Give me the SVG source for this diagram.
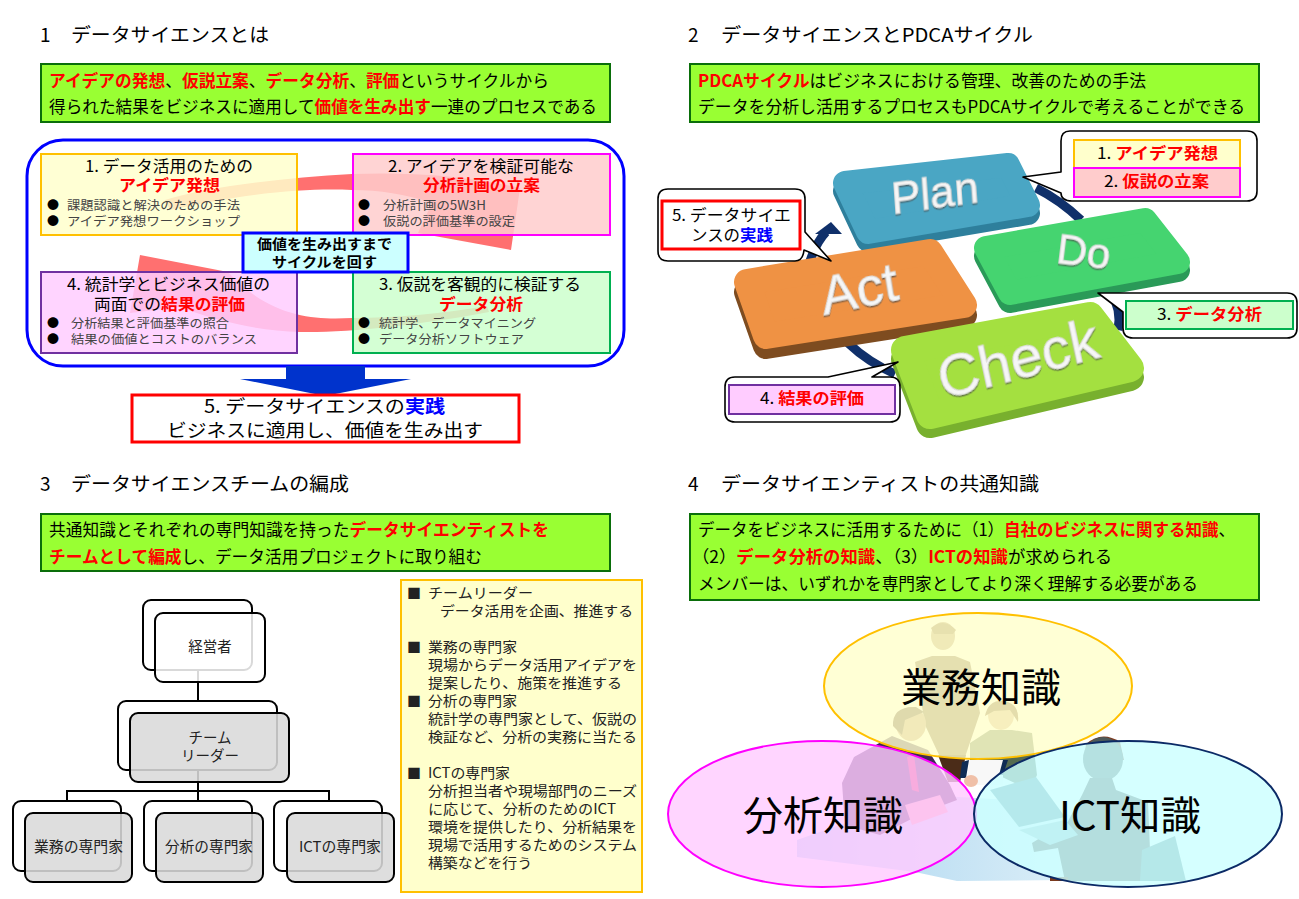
<svg xmlns="http://www.w3.org/2000/svg" width="1299" height="899" viewBox="0 0 1299 899">
<style>
text{font-family:"Noto Sans CJK JP","Liberation Sans",sans-serif;fill:#000;white-space:pre}
.title{font-size:19px}
.ban{font-size:17px}
.r{fill:#f00;font-weight:700}
.bl{fill:#00f;font-weight:700}
.banner{fill:#99ff33;stroke:#0a6e0a;stroke-width:2}
.h{font-size:16px}
.s{font-size:12.5px;fill:#444}
.dot{font-size:12px;fill:#000}
.c{text-anchor:middle}
.yel{fill:#ffffcc;stroke:#ffc000;stroke-width:2}
.pnk{fill:#ffcccc;stroke:#ff00ff;stroke-width:2}
.pur{fill:#ffccff;stroke:#7030a0;stroke-width:2}
.grn{fill:#ccffcc;stroke:#00b050;stroke-width:2}
.band{fill:#ff7070}
.call{fill:#fff;stroke:#000;stroke-width:1.6;stroke-linejoin:round}
.ring{fill:none;stroke:#10306a;stroke-width:9}
.word{font-family:"Liberation Sans",Arial,sans-serif;fill:#f6f6f6;stroke:#dcdcdc;stroke-width:1;text-anchor:middle;filter:url(#sh)}
.bk{fill:#fff;stroke:#000;stroke-width:2}
.fw{fill:#fff;fill-opacity:.85;stroke:#000;stroke-width:2}
.fg{fill:#d9d9d9;fill-opacity:.88;stroke:#000;stroke-width:2}
.org{font-size:14.5px;fill:#222}
.t{font-size:14px;fill:#222}
.big{font-size:40px;text-anchor:middle}
.rj{stroke-linejoin:round}
</style>
<defs>
<filter id="sh" x="-10%" y="-10%" width="120%" height="130%"><feDropShadow dx="0" dy="1.5" stdDeviation=".7" flood-color="#444" flood-opacity=".7"/></filter>
<linearGradient id="tbl" x1="0" y1="0" x2="1" y2="0"><stop offset="0" stop-color="#a8d4f0"/><stop offset="1" stop-color="#dff0f8"/></linearGradient>
</defs>
<rect width="1299" height="899" fill="#fff"/>

<g id="titles">
<text class="title" x="40" y="42">1<tspan x="71" textLength="198" lengthAdjust="spacingAndGlyphs">データサイエンスとは</tspan></text>
<text class="title" x="688" y="42">2<tspan x="721" textLength="312" lengthAdjust="spacingAndGlyphs">データサイエンスとPDCAサイクル</tspan></text>
<text class="title" x="40" y="491">3<tspan x="71" textLength="278" lengthAdjust="spacingAndGlyphs">データサイエンスチームの編成</tspan></text>
<text class="title" x="688" y="491">4<tspan x="721" textLength="318" lengthAdjust="spacingAndGlyphs">データサイエンティストの共通知識</tspan></text>
</g>

<g id="banner1">
<rect class="banner" x="41" y="64" width="569" height="58"/>
<text class="ban" x="49" y="87" textLength="500" lengthAdjust="spacingAndGlyphs"><tspan class="r">アイデアの発想</tspan>、<tspan class="r">仮説立案</tspan>、<tspan class="r">データ分析</tspan>、<tspan class="r">評価</tspan>というサイクルから</text>
<text class="ban" x="49" y="113" textLength="548" lengthAdjust="spacingAndGlyphs">得られた結果をビジネスに適用して<tspan class="r">価値を生み出す</tspan>一連のプロセスである</text>
</g>
<g id="banner2">
<rect class="banner" x="690" y="64" width="569" height="58"/>
<text class="ban" x="698" y="87" textLength="448" lengthAdjust="spacingAndGlyphs"><tspan class="r">PDCAサイクル</tspan>はビジネスにおける管理、改善のための手法</text>
<text class="ban" x="698" y="113" textLength="547" lengthAdjust="spacingAndGlyphs">データを分析し活用するプロセスもPDCAサイクルで考えることができる</text>
</g>
<g id="banner3">
<rect class="banner" x="41" y="514" width="569" height="57"/>
<text class="ban" x="49" y="536" textLength="500" lengthAdjust="spacingAndGlyphs">共通知識とそれぞれの専門知識を持った<tspan class="r">データサイエンティストを</tspan></text>
<text class="ban" x="49" y="563" textLength="433" lengthAdjust="spacingAndGlyphs"><tspan class="r">チームとして編成</tspan>し、データ活用プロジェクトに取り組む</text>
</g>
<g id="banner4">
<rect class="banner" x="690" y="514" width="569" height="86"/>
<text class="ban" x="698" y="536" textLength="537" lengthAdjust="spacingAndGlyphs">データをビジネスに活用するために（1）<tspan class="r">自社のビジネスに関する知識</tspan>、</text>
<text class="ban" x="692" y="563" textLength="420" lengthAdjust="spacingAndGlyphs">（2）<tspan class="r">データ分析の知識</tspan>、（3）<tspan class="r">ICTの知識</tspan>が求められる</text>
<text class="ban" x="698" y="590" textLength="500" lengthAdjust="spacingAndGlyphs">メンバーは、いずれかを専門家としてより深く理解する必要がある</text>
</g>

<g id="cycle-frame">
<rect x="27" y="140" width="597" height="226" rx="36" fill="#fff" stroke="#0000ff" stroke-width="3"/>
</g>
<g id="connectors-cycle">
<path class="band" d="M165,200C210,186 285,178 352,174C405,172 465,175 520,188L511,250L418,233L432,203C405,194 380,190 352,190C310,188 250,192 170,210Z"/>
<path class="band" d="M487,306C440,314 395,318 352,318C315,320 270,318 228,272L140,255L130,313L180,307C220,322 260,331 300,332C345,333 420,325 489,312Z"/>
<path fill="#0033cc" d="M286,366H365V379H411L325,396L240,379H286Z"/>
</g>
<g id="box1">
<rect class="yel" x="41" y="154" width="256" height="81" fill-opacity=".85"/>
<text class="h" x="85" y="172" textLength="168" lengthAdjust="spacingAndGlyphs">1. データ活用のための</text>
<text class="h r" x="119" y="191" textLength="101" lengthAdjust="spacingAndGlyphs">アイデア発想</text>
<text class="dot" x="47" y="210">●</text><text class="s" x="67" y="210" textLength="173" lengthAdjust="spacingAndGlyphs">課題認識と解決のための手法</text>
<text class="dot" x="47" y="226">●</text><text class="s" x="67" y="226" textLength="173" lengthAdjust="spacingAndGlyphs">アイデア発想ワークショップ</text>
</g>
<g id="box2">
<rect class="pnk" x="353" y="154" width="257" height="81" fill-opacity=".85"/>
<text class="h" x="388" y="172" textLength="186" lengthAdjust="spacingAndGlyphs">2. アイデアを検証可能な</text>
<text class="h r" x="423" y="191" textLength="117" lengthAdjust="spacingAndGlyphs">分析計画の立案</text>
<text class="dot" x="358" y="210">●</text><text class="s" x="383" y="210" textLength="103" lengthAdjust="spacingAndGlyphs">分析計画の5W3H</text>
<text class="dot" x="358" y="226">●</text><text class="s" x="383" y="226" textLength="132" lengthAdjust="spacingAndGlyphs">仮説の評価基準の設定</text>
</g>
<g id="box4">
<rect class="pur" x="41" y="272" width="256" height="81" fill-opacity=".85"/>
<text class="h" x="67" y="290" textLength="203" lengthAdjust="spacingAndGlyphs">4. 統計学とビジネス価値の</text>
<text class="h" x="94" y="310" textLength="151" lengthAdjust="spacingAndGlyphs">両面での<tspan class="r">結果の評価</tspan></text>
<text class="dot" x="47" y="328">●</text><text class="s" x="71" y="328" textLength="158" lengthAdjust="spacingAndGlyphs">分析結果と評価基準の照合</text>
<text class="dot" x="47" y="344">●</text><text class="s" x="71" y="344" textLength="186" lengthAdjust="spacingAndGlyphs">結果の価値とコストのバランス</text>
</g>
<g id="box3">
<rect class="grn" x="353" y="272" width="257" height="81" fill-opacity=".85"/>
<text class="h" x="379" y="290" textLength="202" lengthAdjust="spacingAndGlyphs">3. 仮説を客観的に検証する</text>
<text class="h r" x="439" y="310" textLength="84" lengthAdjust="spacingAndGlyphs">データ分析</text>
<text class="dot" x="358" y="328">●</text><text class="s" x="379" y="328" textLength="157" lengthAdjust="spacingAndGlyphs">統計学、データマイニング</text>
<text class="dot" x="358" y="344">●</text><text class="s" x="379" y="344" textLength="145" lengthAdjust="spacingAndGlyphs">データ分析ソフトウェア</text>
</g>
<g id="box-center">
<rect x="243" y="233" width="165" height="39" fill="#ccffff" stroke="#0000ff" stroke-width="3"/>
<text x="257" y="249" font-size="14" font-weight="700" textLength="135" lengthAdjust="spacingAndGlyphs">価値を生み出すまで</text>
<text x="272" y="267" font-size="14" font-weight="700" textLength="105" lengthAdjust="spacingAndGlyphs">サイクルを回す</text>
</g>
<g id="box5">
<rect x="132" y="395" width="387" height="47" fill="#fff" stroke="#f00" stroke-width="3"/>
<text x="204" y="413" font-size="18" textLength="241" lengthAdjust="spacingAndGlyphs">5. データサイエンスの<tspan class="bl">実践</tspan></text>
<text x="167" y="437" font-size="18" textLength="316" lengthAdjust="spacingAndGlyphs">ビジネスに適用し、価値を生み出す</text>
</g>

<g id="connectors-pdca">
<path class="ring" d="M1036,188Q1060,200 1081,220"/>
<path class="ring" d="M1110,290Q1122,310 1118,330"/>
<path class="ring" d="M848,343Q868,362 895,374"/>
<path class="ring" d="M808,268Q814,245 826,232"/>
<path fill="#10306a" d="M831,222L842,234L815,234Z"/>
</g>
<g id="plan">
<path class="rj" fill="#2e7f9c" stroke="#2e7f9c" stroke-width="24" d="M845,191L1008,173L1028,213L868,240Z"/>
<path class="rj" fill="#4aa6c4" stroke="#4aa6c4" stroke-width="24" d="M845,183L1008,165L1028,205L868,232Z"/>
<text class="word" font-size="44" transform="translate(936,208) rotate(-8) skewX(-4)">Plan</text>
</g>
<g id="do">
<path class="rj" fill="#2a9a58" stroke="#2a9a58" stroke-width="24" d="M986,256L1145,228L1178,270L1010,301Z"/>
<path class="rj" fill="#45d470" stroke="#45d470" stroke-width="24" d="M986,248L1145,220L1178,262L1010,293Z"/>
<text class="word" font-size="42" transform="translate(1082,266) rotate(7)">Do</text>
</g>
<g id="act">
<path class="rj" fill="#7e4c20" stroke="#7e4c20" stroke-width="26" d="M747,292L930,262L964,315L766,346Z"/>
<path class="rj" fill="#ef9244" stroke="#ef9244" stroke-width="26" d="M747,282L930,252L964,305L766,336Z"/>
<text class="word" font-size="54" transform="translate(862,307) rotate(-12) skewX(-3)">Act</text>
</g>
<g id="check">
<path class="rj" fill="#78b02e" stroke="#78b02e" stroke-width="28" d="M905,359L1090,325L1130,377L930,424Z"/>
<path class="rj" fill="#a4e040" stroke="#a4e040" stroke-width="28" d="M905,350L1090,316L1130,368L930,415Z"/>
<text class="word" font-size="58" transform="translate(1022,378) rotate(-15) skewX(-3)">Check</text>
</g>
<g id="callout-plan">
<path class="call" d="M1070,131H1247Q1257,131 1257,141V191Q1257,201 1247,201H1072Q1061,201 1061,193L1023,177L1061,172V141Q1061,131 1070,131Z"/>
<rect class="yel" x="1074" y="140" width="166" height="28"/>
<rect class="pnk" x="1074" y="168" width="166" height="29"/>
<text x="1097" y="159" font-size="16" textLength="121" lengthAdjust="spacingAndGlyphs">1. <tspan class="r">アイデア発想</tspan></text>
<text x="1104" y="187" font-size="16" textLength="105" lengthAdjust="spacingAndGlyphs">2. <tspan class="r">仮説の立案</tspan></text>
</g>
<g id="callout-act">
<path class="call" d="M668,189H795Q805,189 805,199V232L831,261L804,250Q803,261 795,261H668Q658,261 658,251V199Q658,189 668,189Z"/>
<rect x="662" y="201" width="138" height="48" fill="#fff" stroke="#f00" stroke-width="3"/>
<text x="672" y="221" font-size="16" textLength="119" lengthAdjust="spacingAndGlyphs">5. データサイエ</text>
<text x="691" y="241" font-size="16" textLength="82" lengthAdjust="spacingAndGlyphs">ンスの<tspan class="bl">実践</tspan></text>
</g>
<g id="callout-check">
<path class="call" d="M735,377H828L898,362L872,377H890Q900,377 900,387V412Q900,422 890,422H735Q725,422 725,412V387Q725,377 735,377Z"/>
<rect class="pur" x="729" y="385" width="166" height="29"/>
<text x="760" y="404" font-size="16" textLength="104" lengthAdjust="spacingAndGlyphs">4. <tspan class="r">結果の評価</tspan></text>
</g>
<g id="callout-do">
<path class="call" d="M1098,293H1287Q1297,293 1297,303V328Q1297,338 1287,338H1133Q1123,338 1123,328V312L1098,293Z"/>
<rect class="grn" x="1126" y="301" width="167" height="28"/>
<text x="1157" y="320" font-size="16" textLength="105" lengthAdjust="spacingAndGlyphs">3. <tspan class="r">データ分析</tspan></text>
</g>

<g id="connectors-org" fill="none" stroke="#000" stroke-width="2">
<path d="M198,670V701M198,770V801M67,801V791H329V801"/>
</g>
<g id="org-exec">
<rect class="bk" x="143" y="600" width="109" height="70" rx="8"/>
<rect class="fw" x="155" y="613" width="110" height="69" rx="8"/>
<text class="org c" x="210" y="652">経営者</text>
</g>
<g id="org-leader">
<rect class="bk" x="118" y="701" width="159" height="69" rx="8"/>
<rect class="fg" x="130" y="713" width="159" height="69" rx="8"/>
<text class="org c" x="210" y="743">チーム</text>
<text class="org c" x="210" y="761">リーダー</text>
</g>
<g id="org-biz">
<rect class="bk" x="13" y="801" width="108" height="70" rx="8"/>
<rect class="fg" x="25" y="813" width="107" height="69" rx="8"/>
<text class="org" x="34" y="852" textLength="89" lengthAdjust="spacingAndGlyphs">業務の専門家</text>
</g>
<g id="org-ana">
<rect class="bk" x="144" y="801" width="108" height="70" rx="8"/>
<rect class="fg" x="156" y="813" width="107" height="69" rx="8"/>
<text class="org" x="165" y="852" textLength="88" lengthAdjust="spacingAndGlyphs">分析の専門家</text>
</g>
<g id="org-ict">
<rect class="bk" x="274" y="801" width="108" height="70" rx="8"/>
<rect class="fg" x="287" y="813" width="107" height="69" rx="8"/>
<text class="org" x="299" y="852" textLength="82" lengthAdjust="spacingAndGlyphs">ICTの専門家</text>
</g>
<g id="roles">
<rect class="yel" x="401" y="580" width="241" height="312"/>
<text class="t" x="407" y="598">■</text><text class="t" x="428" y="598" textLength="105" lengthAdjust="spacingAndGlyphs">チームリーダー</text>
<text class="t" x="440" y="616" textLength="193" lengthAdjust="spacingAndGlyphs">データ活用を企画、推進する</text>
<text class="t" x="407" y="652">■</text><text class="t" x="428" y="652" textLength="89" lengthAdjust="spacingAndGlyphs">業務の専門家</text>
<text class="t" x="428" y="670" textLength="209" lengthAdjust="spacingAndGlyphs">現場からデータ活用アイデアを</text>
<text class="t" x="428" y="688" textLength="194" lengthAdjust="spacingAndGlyphs">提案したり、施策を推進する</text>
<text class="t" x="407" y="706">■</text><text class="t" x="428" y="706" textLength="89" lengthAdjust="spacingAndGlyphs">分析の専門家</text>
<text class="t" x="428" y="724" textLength="209" lengthAdjust="spacingAndGlyphs">統計学の専門家として、仮説の</text>
<text class="t" x="428" y="742" textLength="209" lengthAdjust="spacingAndGlyphs">検証など、分析の実務に当たる</text>
<text class="t" x="407" y="778">■</text><text class="t" x="428" y="778" textLength="82" lengthAdjust="spacingAndGlyphs">ICTの専門家</text>
<text class="t" x="428" y="796" textLength="209" lengthAdjust="spacingAndGlyphs">分析担当者や現場部門のニーズ</text>
<text class="t" x="428" y="814" textLength="188" lengthAdjust="spacingAndGlyphs">に応じて、分析のためのICT</text>
<text class="t" x="428" y="832" textLength="209" lengthAdjust="spacingAndGlyphs">環境を提供したり、分析結果を</text>
<text class="t" x="428" y="850" textLength="209" lengthAdjust="spacingAndGlyphs">現場で活用するためのシステム</text>
<text class="t" x="428" y="868" textLength="104" lengthAdjust="spacingAndGlyphs">構築などを行う</text>
</g>

<g id="people-scene">
<path fill="url(#tbl)" d="M797,840L925,795L1010,800L1090,820L1065,880L957,881L915,872L797,857Z"/>
<path fill="#6e5236" d="M915,662L932,656L955,656L970,662L980,713L965,757H940L925,725Z"/>
<ellipse cx="943" cy="636" rx="12" ry="14" fill="#a98a62"/>
<path fill="#7d5a2e" d="M931,628Q944,617 956,630L953,634H934Z"/>
<path fill="#4b2c18" d="M938,755H966L960,782H948Z"/>
<path fill="#3d2a55" d="M854,757L892,736L928,750L950,785L957,800L925,812L880,835L845,825L842,783Z"/>
<ellipse cx="911" cy="724" rx="15" ry="17" fill="#b88c6c"/>
<path fill="#4e3426" d="M893,726Q892,706 916,707L924,712L905,720L902,735Z"/>
<path fill="#d6204a" d="M907,757L914,755L919,792L912,790Z"/>
<path fill="#f0a0a8" d="M905,805L940,795L948,812L912,825Z"/>
<ellipse cx="1001" cy="715" rx="13" ry="15" fill="#cfa880"/>
<path fill="#6c4420" d="M985,716Q988,700 1003,701Q1020,703 1018,722L1010,710L994,711Z"/>
<path fill="#556b50" d="M970,743L990,730L1012,730L1032,733L1037,775L1030,790L970,762Z"/>
<path fill="#f8f8f8" d="M970,760L1003,760L1003,785L966,785Z"/>
<path fill="#0f2c55" d="M962,762L969,760L966,778L960,778ZM1003,760L1008,760L1003,775L999,775Z"/>
<ellipse cx="971" cy="781" rx="7" ry="6" fill="#f0c0a8"/>
<path fill="#7a3c22" d="M1086,744Q1102,730 1120,742L1124,760H1084Z"/>
<ellipse cx="1103" cy="759" rx="20" ry="22" fill="#4e5a5a"/>
<path fill="#4a4a4a" d="M1090,778H1112L1116,790L1148,802L1150,850L1142,881H1065L1058,848L1034,852L1032,843L1045,835L1066,825L1082,795Z"/>
<path fill="#4f8896" d="M990,790L1036,777L1065,817L1019,827Z"/>
<path fill="#8ab8c4" d="M1019,830L1065,820L1078,835L1050,845Z"/>
<path fill="#4f7f88" d="M1142,850L1175,836L1186,881H1140Z"/>
<path fill="#7a3a1e" d="M1050,877h18v4h-18z"/>
</g>
<g id="know-biz">
<ellipse cx="978" cy="686" rx="154" ry="73" fill="#ffffcc" fill-opacity=".82" stroke="#ffc000" stroke-width="2"/>
<text class="big" x="981" y="702">業務知識</text>
</g>
<g id="know-ana">
<ellipse cx="822" cy="814" rx="154" ry="73" fill="#ffccff" fill-opacity=".82" stroke="#ff00ff" stroke-width="2"/>
<text class="big" x="823" y="830">分析知識</text>
</g>
<g id="know-ict">
<ellipse cx="1128" cy="814" rx="154" ry="73" fill="#ccffff" fill-opacity=".82" stroke="#0b2a66" stroke-width="2"/>
<text class="big" x="1130" y="830" textLength="142" lengthAdjust="spacingAndGlyphs">ICT知識</text>
</g>
</svg>
